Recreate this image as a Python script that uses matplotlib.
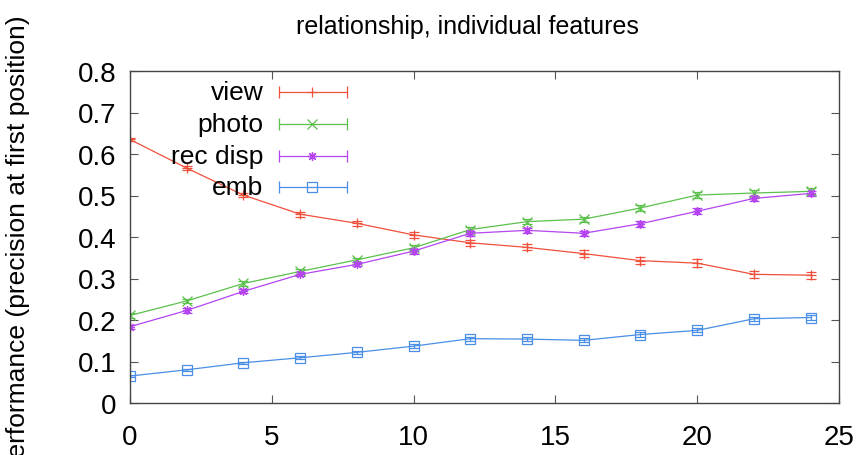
import matplotlib
matplotlib.use("Agg")
import matplotlib.pyplot as plt
from matplotlib.lines import Line2D

plt.rcParams['font.family'] = ['Liberation Sans', 'DejaVu Sans']

x = [0, 2, 4, 6, 8, 10, 12, 14, 16, 18, 20, 22, 24]
view = [0.635, 0.566, 0.501, 0.455, 0.433, 0.405, 0.386, 0.375, 0.360, 0.343, 0.337, 0.310, 0.308]
view_err = [0.004, 0.005, 0.005, 0.006, 0.006, 0.007, 0.007, 0.007, 0.008, 0.008, 0.009, 0.008, 0.008]
photo = [0.211, 0.246, 0.288, 0.317, 0.345, 0.374, 0.418, 0.437, 0.443, 0.470, 0.501, 0.506, 0.510]
photo_err = [0.005, 0.005, 0.005, 0.005, 0.005, 0.006, 0.006, 0.006, 0.006, 0.007, 0.007, 0.007, 0.007]
recdisp = [0.184, 0.223, 0.269, 0.310, 0.334, 0.366, 0.409, 0.416, 0.409, 0.432, 0.462, 0.493, 0.505]
recdisp_err = [0.005, 0.005, 0.005, 0.005, 0.005, 0.006, 0.006, 0.006, 0.006, 0.007, 0.007, 0.007, 0.007]
emb = [0.065, 0.080, 0.097, 0.109, 0.122, 0.137, 0.155, 0.154, 0.151, 0.165, 0.175, 0.203, 0.206]
emb_err = [0.003, 0.003, 0.003, 0.004, 0.004, 0.004, 0.005, 0.005, 0.005, 0.005, 0.005, 0.005, 0.005]

series = [
    ("view", view, view_err, "#f0503c", "+"),
    ("photo", photo, photo_err, "#5cc04c", "x"),
    ("rec disp", recdisp, recdisp_err, "#b445f0", (8, 2, 0)),
    ("emb", emb, emb_err, "#4a8fe6", "s"),
]

fig = plt.figure(figsize=(8.58, 4.56), dpi=100)
ax = fig.add_axes([130 / 858, 1 - 404 / 456, 709 / 858, 332 / 456])

for name, vals, err, col, mk in series:
    ax.errorbar(x, vals, yerr=err, color=col, marker=mk, ms=6.5, mew=0.9,
                mfc='none', lw=0.9, elinewidth=0.9, capsize=3.5, capthick=0.9)

ax.set_xlim(0, 25)
ax.set_ylim(0, 0.8)
ax.set_xticks([0, 5, 10, 15, 20, 25])
ax.set_yticks([0, 0.1, 0.2, 0.3, 0.4, 0.5, 0.6, 0.7, 0.8])
ax.set_yticklabels(["0", "0.1", "0.2", "0.3", "0.4", "0.5", "0.6", "0.7", "0.8"])
ax.tick_params(direction='in', length=6, width=0.8, color='#555555',
               top=True, right=True, labelsize=20)
ax.tick_params(axis='x', pad=15)
ax.tick_params(axis='y', pad=10)
for s in ax.spines.values():
    s.set_color('#444444')
    s.set_linewidth(1.0)

# gnuplot style key
rows = [0.937, 0.840, 0.744, 0.651]
for (name, vals, err, col, mk), yy in zip(series, rows):
    ax.text(0.188, yy, name, transform=ax.transAxes, ha='right', va='center', fontsize=19)
    ax.add_line(Line2D([0.210, 0.306], [yy, yy], transform=ax.transAxes, color=col, lw=0.9))
    ax.add_line(Line2D([0.210, 0.306], [yy, yy], transform=ax.transAxes, color=col,
                       lw=0, marker='|', ms=8, mew=0.9))
    ax.add_line(Line2D([0.257], [yy], transform=ax.transAxes, color=col, lw=0,
                       marker=mk, ms=6.5, mew=0.9, mfc='none'))

fig.text(0.545, 0.94, "relationship, individual features", ha='center', va='center', fontsize=18)
fig.text(0.021, 0.462, "Performance (precision at first position)", rotation=90,
         ha='center', va='center', fontsize=19)

fig.savefig("out.png", dpi=100)
